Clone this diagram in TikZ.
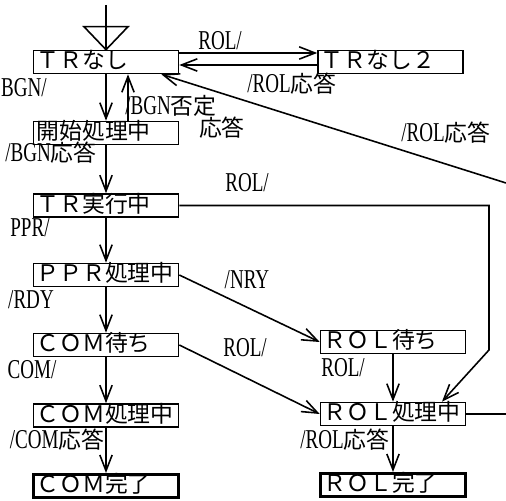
\documentclass[tikz,border=0pt]{standalone}
\usepackage{fontspec}
\newfontfamily\jpfont{Noto Sans CJK JP}
\newfontfamily\latfont[FakeStretch=0.7]{Liberation Serif}
\newcommand{\jpl}[1]{{\jpfont\fontsize{13}{15}\selectfont #1}}
\usetikzlibrary{arrows.meta,calc}

\begin{document}
\begin{tikzpicture}[
  state/.style={draw, line width=0.9pt, align=left, text width=2.78cm, inner xsep=0.06cm, inner ysep=0.02cm,
    minimum height=0.46cm, text height=9.5pt, text depth=2pt, font=\jpfont\fontsize{13}{15}\selectfont},
  final/.style={state, line width=1.7pt},
  lbl/.style={inner sep=0pt, font=\latfont\fontsize{15.5}{17}\selectfont},
  arr/.style={-{Straight Barb[length=9pt,width=7pt]}, line width=0.9pt}
]
\useasboundingbox (0,0) rectangle (10.12,10.02);

% Left column: normal sequence
\node[state] (trnashi) at (2.12,8.78) {ＴＲなし};
\node[state] (kaishi) at (2.12,7.36) {開始処理中};
\node[state] (trexec) at (2.12,5.91) {ＴＲ実行中};
\node[state] (pprproc) at (2.12,4.52) {ＰＰＲ処理中};
\node[state] (comwait) at (2.12,3.12) {ＣＯＭ待ち};
\node[state] (comproc) at (2.12,1.71) {ＣＯＭ処理中};
\node[final] (comdone) at (2.12,0.30) {ＣＯＭ完了};

% Right column: ROL handling
\node[state] (trnashi2) at (7.81,8.78) {ＴＲなし２};
\node[state] (rolwait) at (7.86,3.18) {ＲＯＬ待ち};
\node[state] (rolproc) at (7.86,1.74) {ＲＯＬ処理中};
\node[final] (roldone) at (7.86,0.32) {ＲＯＬ完了};

% start marker
\coordinate (start) at (2.12,9.92);
\draw[line width=0.9pt] (start) -- (trnashi.north);
\draw[line width=0.9pt] ($(trnashi.north)+(-0.44,0.46)$) -- ++(0.88,0) -- (trnashi.north) -- cycle;

% transitions
\draw[arr] (trnashi.south) -- (kaishi.north);
\draw[arr] ([xshift=0.44cm]kaishi.north) -- ([xshift=0.44cm]trnashi.south);
\draw[arr] (kaishi.south) -- (trexec.north);
\draw[arr] (trexec.south) -- (pprproc.north);
\draw[arr] (pprproc.south) -- (comwait.north);
\draw[arr] (comwait.south) -- (comproc.north);
\draw[arr] (comproc.south) -- (comdone.north);

\draw[arr] ([yshift=0.18cm]trnashi.east) -- ([yshift=0.18cm]trnashi2.west);
\draw[arr] ([yshift=-0.06cm]trnashi2.west) -- ([yshift=-0.06cm]trnashi.east);

\coordinate (rolret) at (10.12,6.36);
\draw[arr] (rolret) -- ([xshift=-0.36cm]trnashi.south east);

\coordinate (rolbend) at (9.78,3.02);
\draw[arr] (trexec.east) -| (rolbend) -- ([xshift=0.98cm]rolproc.north);

\draw[arr] (pprproc.east) -- (rolwait.west);
\draw[arr] (comwait.east) -- (rolproc.west);
\draw[arr] (rolwait.south) -- (rolproc.north);
\draw[arr] (rolproc.south) -- (roldone.north);

\coordinate (rolout) at (10.12,1.74);
\draw[line width=0.9pt] (rolproc.east) -- (rolout);

% labels
\node[lbl] (lrol1) at (4.4,9.2) {ROL/};
\node[lbl] (lrolack1) at (5.84,8.34) {/ROL\jpl{応答}};
\node[lbl] (lrolack2) at (8.92,7.36) {/ROL\jpl{応答}};
\node[lbl] (lbgn) at (0.48,8.26) {BGN/};
\node[lbl] (lbgnneg) at (3.42,7.9) {/BGN\jpl{否定}};
\node[lbl] (lbgnneg2) at (4.44,7.46) {\jpl{応答}};
\node[lbl] (lbgnack) at (1.02,6.96) {/BGN\jpl{応答}};
\node[lbl] (lrol2) at (4.94,6.36) {ROL/};
\node[lbl] (lppr) at (0.6,5.46) {PPR/};
\node[lbl] (lnry) at (4.94,4.42) {/NRY};
\node[lbl] (lrdy) at (0.62,4.02) {/RDY};
\node[lbl] (lrol3) at (4.9,3.06) {ROL/};
\node[lbl] (lcom) at (0.64,2.62) {COM/};
\node[lbl] (lrol4) at (6.86,2.66) {ROL/};
\node[lbl] (lcomack) at (1.14,1.22) {/COM\jpl{応答}};
\node[lbl] (lrolack3) at (6.9,1.22) {/ROL\jpl{応答}};

\end{tikzpicture}
\end{document}
